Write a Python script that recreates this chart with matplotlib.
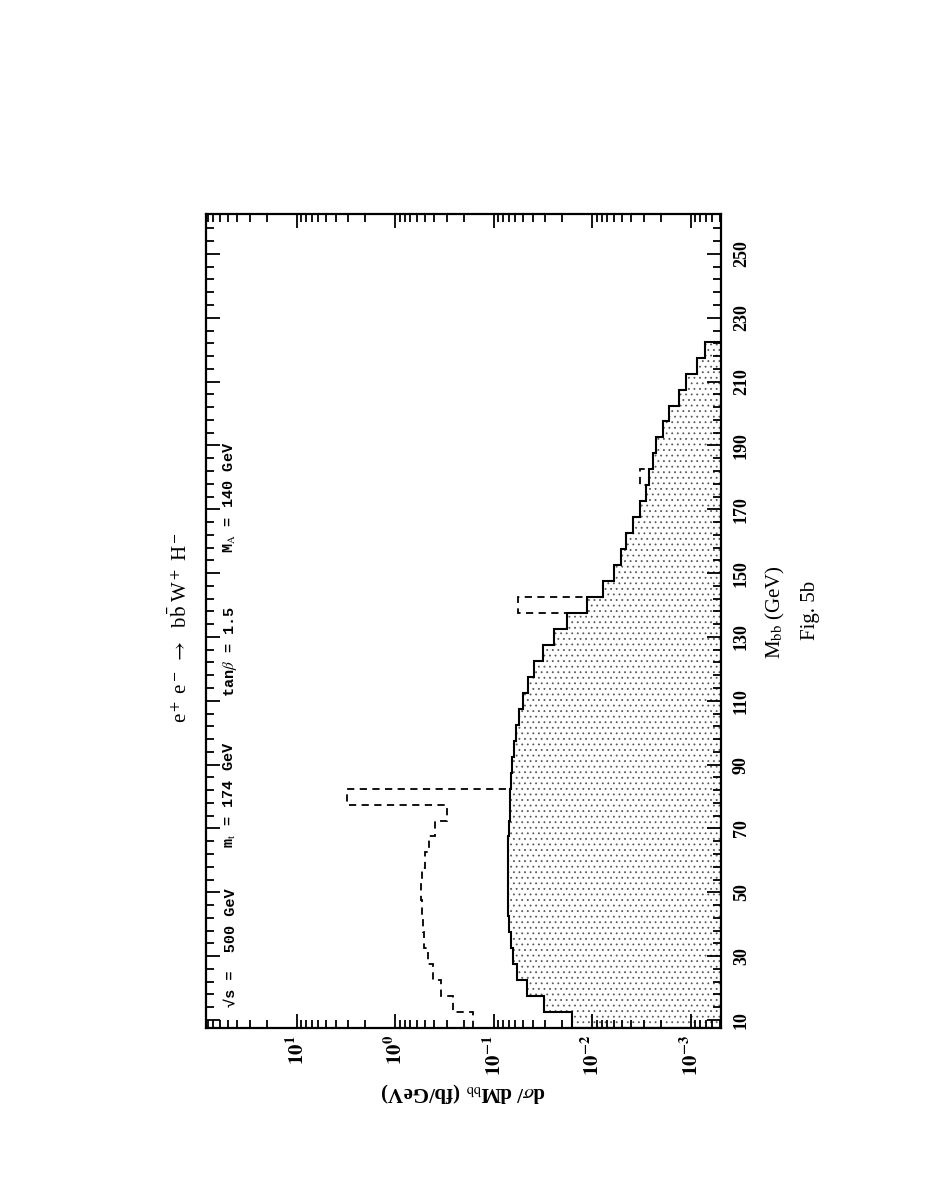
import numpy as np
import matplotlib.pyplot as plt
from matplotlib.ticker import FixedLocator, LogLocator, NullFormatter

plt.rcParams['mathtext.fontset'] = 'stix'
plt.rcParams['hatch.color'] = '0.35'
plt.rcParams['hatch.linewidth'] = 0.6

# 5 GeV bins in M_bb, lower edges 7.5 ... 217.5
bin_edges = np.arange(7.5, 223, 5.0)

# solid histogram (shaded), d sigma / dM_bb in fb/GeV
solid = [0.0158, 0.0308, 0.0462, 0.0580, 0.0630, 0.0665, 0.0692, 0.0705,
         0.0710, 0.0710, 0.0710, 0.0705, 0.0697, 0.0686, 0.0676, 0.0670,
         0.0644, 0.0618, 0.0593, 0.0555, 0.0498, 0.0446, 0.0387, 0.0314,
         0.0244, 0.0179, 0.0113, 0.00778, 0.00605, 0.00512, 0.00451, 0.00382,
         0.00329, 0.00285, 0.00262, 0.00241, 0.00222, 0.00192, 0.00166,
         0.00131, 0.00111, 0.000863, 0.000718]

# dashed histogram: differs from the solid one below 82.5 GeV and in two bins
dashed_low = [0.160, 0.260, 0.345, 0.415, 0.460, 0.505, 0.525, 0.538,
              0.540, 0.535, 0.500, 0.452, 0.394, 0.298, 3.10]
spike_bins = [137.5, 177.5]
spike_vals = [0.0562, 0.00328]

dashed = np.array(solid)
dashed[:len(dashed_low)] = dashed_low
for lo, v in zip(spike_bins, spike_vals):
    dashed[np.argmin(np.abs(bin_edges - lo))] = v

y_ticks = np.arange(10, 251, 20)
x_ticks = [10, 1, 0.1, 0.01, 0.001]
x_labels = [r'$\mathbf{10^{1}}$', r'$\mathbf{10^{0}}$', r'$\mathbf{10^{-1}}$',
            r'$\mathbf{10^{-2}}$', r'$\mathbf{10^{-3}}$']

W, H = 927, 1199
fig = plt.figure(figsize=(W / 100, H / 100), dpi=100)


def fx(px):
    return px / W


def fy(py):
    return 1 - py / H


ax = fig.add_axes([fx(205.5), fy(1028), fx(720.5) - fx(205.5), fy(214) - fy(1028)])
ax.set_xscale('log')
ax.set_xlim(84, 4.96e-4)
ax.set_ylim(7.5, 262.5)

ax.stairs(solid, bin_edges, orientation='horizontal', baseline=1e-6, fill=True,
          facecolor='white', edgecolor='0.35', hatch='...', linewidth=0)
ax.stairs(solid, bin_edges, orientation='horizontal', baseline=1e-6,
          color='black', lw=1.5)
ax.stairs(dashed, bin_edges, orientation='horizontal', baseline=None,
          color='black', lw=1.3, ls=(0, (4, 3)))

for s in ax.spines.values():
    s.set_linewidth(1.6)

# M_bb axis (vertical), labels on the right
ax.yaxis.set_major_locator(FixedLocator(y_ticks))
ax.yaxis.set_minor_locator(FixedLocator(np.arange(10, 262, 4)))
ax.tick_params(axis='y', which='both', direction='in', left=True, right=True,
               labelleft=False, labelright=True, width=1.3)
ax.tick_params(axis='y', which='major', length=10, pad=9)
ax.tick_params(axis='y', which='minor', length=6)
for lab in ax.get_yticklabels():
    lab.set_rotation(90)
    lab.set_va('center')
    lab.set_fontsize(13)
    lab.set_fontweight('bold')
    lab.set_family('Liberation Serif')

# cross section axis (horizontal, log, decreasing to the right)
ax.set_xticks(x_ticks)
ax.set_xticklabels(x_labels, rotation=90, fontsize=15)
ax.xaxis.set_minor_locator(LogLocator(base=10, subs=np.arange(2, 10), numticks=20))
ax.xaxis.set_minor_formatter(NullFormatter())
ax.tick_params(axis='x', which='both', direction='in', top=True, bottom=True, width=1.3)
ax.tick_params(axis='x', which='major', length=10, pad=5)
ax.tick_params(axis='x', which='minor', length=6)

serif = ['Liberation Serif', 'DejaVu Serif']
mono = ['Liberation Mono', 'DejaVu Sans Mono']

fig.text(fx(463), fy(1092), r'd$\sigma$/ dM$_{\rm bb}$ (fb/GeV)', rotation=180,
         ha='center', va='center', fontsize=15, family=serif, weight='bold')
fig.text(fx(180), fy(628), r'e$^+$ e$^-$ $\rightarrow$  b$\bar{\rm b}$ W$^+$ H$^-$',
         rotation=90, ha='center', va='center', fontsize=15, family=serif)

notes = ['\u221as =  500 GeV', r'm$_{\rm t}$ = 174 GeV', r'tan$\beta$ = 1.5',
         r'M$_{\rm A}$ = 140 GeV']
note_start = [1007, 848, 697, 553]
for t, py in zip(notes, note_start):
    fig.text(fx(230), fy(py), t, rotation=90, ha='center', va='bottom',
             fontsize=11, family=mono, weight='bold')

fig.text(fx(775), fy(612), r'M$_{\rm bb}$ (GeV)', rotation=90, ha='center',
         va='center', fontsize=15, family=serif)
fig.text(fx(810), fy(610), 'Fig. 5b', rotation=90, ha='center', va='center',
         fontsize=15, family=serif)

fig.savefig('out.png', dpi=100)
